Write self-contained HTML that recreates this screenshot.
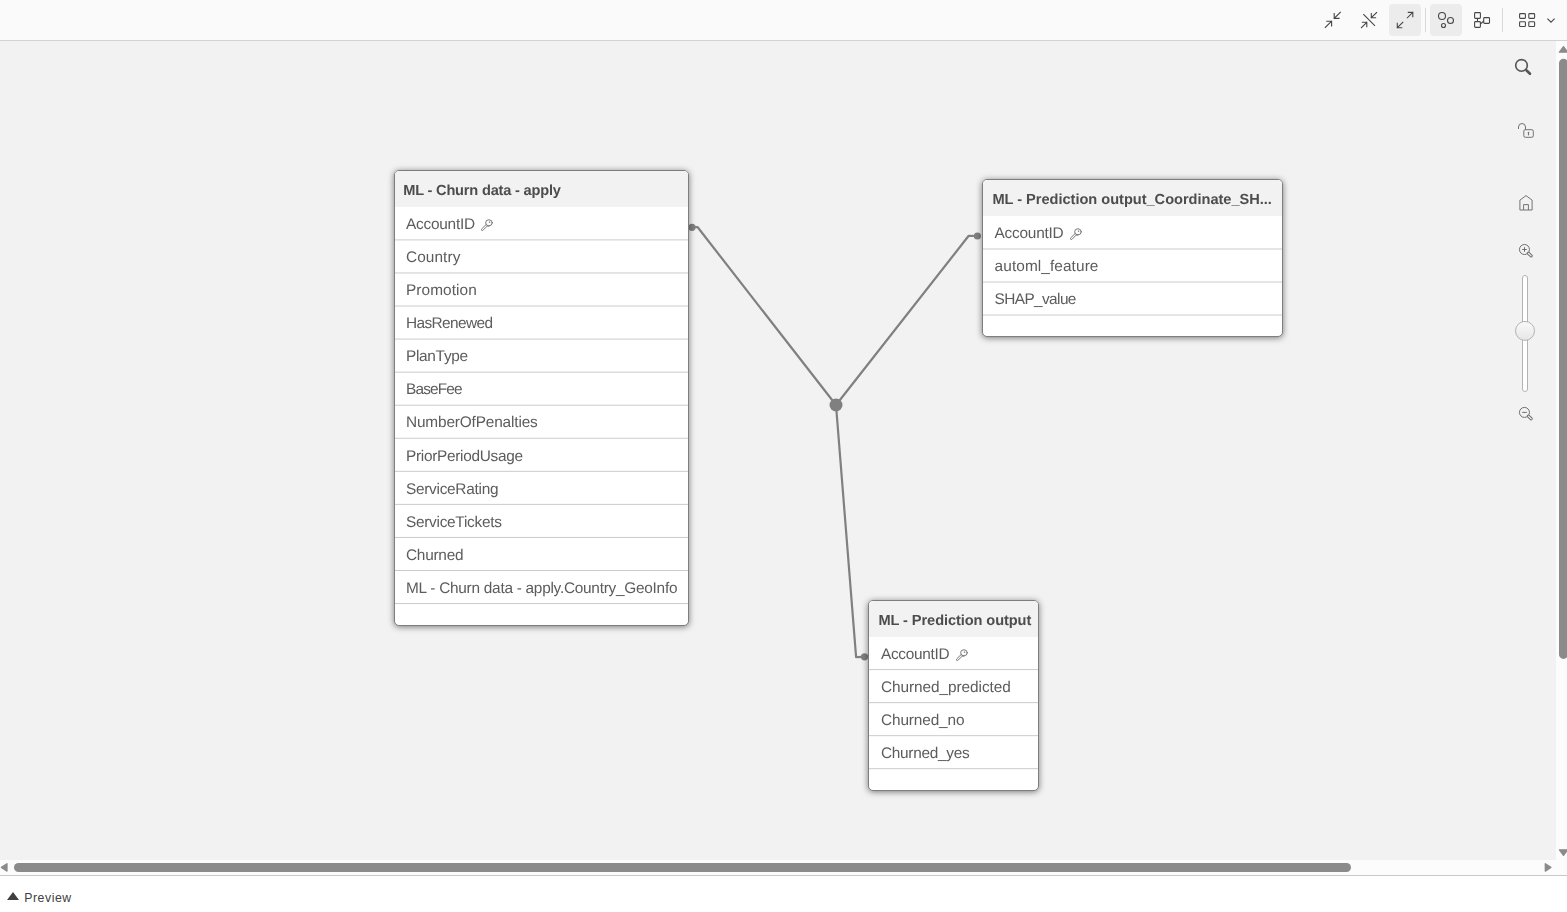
<!DOCTYPE html>
<html lang="en">
<head>
<meta charset="utf-8">
<title>Data model viewer</title>
<style>
*{box-sizing:border-box;margin:0;padding:0}
html,body{width:1567px;height:912px;overflow:hidden;background:#fff;font-family:"Liberation Sans",sans-serif;color:#595959}
#app{position:relative;width:1567px;height:912px;overflow:hidden;background:#fff}
#topbar{position:absolute;left:0;top:0;width:1567px;height:41px;background:#fafafa;border-bottom:1px solid #d2d2d2}
.tbtn{position:absolute;top:4px;width:32px;height:32px;border-radius:4px}
.tbtn.on{background:#ececec}
.tsep{position:absolute;top:8px;width:1px;height:24px;background:#d9d9d9}
#canvas{position:absolute;left:0;top:41px;width:1556px;height:819px;background:#f2f2f2;overflow:hidden}
#vscroll{position:absolute;left:1556px;top:41px;width:16px;height:819px;background:#fcfcfc}
#hscroll{position:absolute;left:0;top:860px;width:1567px;height:16px;background:#fcfcfc;border-bottom:1px solid #c8c8c8}
#footer{position:absolute;left:0;top:876px;width:1567px;height:36px;background:#fff}
.tbl{will-change:transform;text-rendering:geometricPrecision;position:absolute;background:#fff;border:1px solid #7e7e7e;border-radius:5px;box-shadow:0 1px 6px rgba(0,0,0,.5);overflow:hidden}
.tbl .hd{height:36.2px;background:#f2f2f2;font-weight:bold;font-size:14.6px;color:#4d4d4d;padding-left:8.2px;line-height:38px;white-space:nowrap;overflow:hidden}
.tbl .hd span{display:inline-block;position:relative;top:0.5px}
.tbl .rw{height:33.06px;padding-top:1px;font-size:15.4px;color:#5c5c5c;padding-left:11px;line-height:34px;white-space:nowrap;position:relative}
.tbl .ln{position:absolute;left:0;top:0}
.tbl .rw span{display:inline-block;position:relative;top:0px}
.key{position:absolute;top:11.5px;width:13px;height:13px}
svg{display:block}
</style>
</head>
<body>
<div id="app">
  <div id="canvas">
    <svg id="links" width="1556" height="819" viewBox="0 41 1556 819" style="position:absolute;left:0;top:0">
      <g fill="none" stroke="#808080" stroke-width="2.2" stroke-linejoin="round" stroke-linecap="round">
        <polyline points="692,227.3 697.5,227 836,405"/>
        <polyline points="977.4,236 968.7,235.8 836,405"/>
        <polyline points="864.5,656.8 856.1,657.1 836,405"/>
      </g>
      <g fill="#808080">
        <circle cx="836" cy="405" r="6.5"/>
        <circle cx="692.05" cy="227.3" r="3.6"/>
        <circle cx="977.4" cy="236" r="3.6"/>
        <circle cx="864.5" cy="656.8" r="3.6"/>
      </g>
    </svg>


    <svg id="tools" width="60" height="400" viewBox="1500 41 60 400" style="position:absolute;left:1500px;top:0">
      <!-- search -->
      <g fill="none" stroke="#555" stroke-linecap="round">
        <circle cx="1521.5" cy="65.4" r="5.8" stroke-width="1.6"/>
        <path d="M1526.6 70.5L1530 73.8" stroke-width="2.6"/>
      </g>
      <!-- unlock -->
      <g fill="none" stroke="#737373" stroke-width="1">
        <path d="M1518.5 128.6V127A3.5 3.5 0 0 1 1525.5 127V129.5" stroke-linecap="round"/>
        <rect x="1523.8" y="129.7" width="9.5" height="7.6" rx="1.5"/>
        <path d="M1528.5 132.3V134.8" stroke-width="1.2" stroke-linecap="round"/>
      </g>
      <!-- home -->
      <g fill="none" stroke="#737373" stroke-width="1" stroke-linejoin="round">
        <path d="M1519.9 210V200.2L1526 195.6L1532.1 200.2V210Z"/>
        <path d="M1523.6 210V204.6H1528.4V210"/>
      </g>
      <!-- zoom in -->
      <g fill="none" stroke="#6e6e6e" stroke-width="1">
        <circle cx="1524.45" cy="249.5" r="5"/>
        <path d="M1522.2 249.5H1526.8M1524.5 247.2V251.8"/>
        <rect x="-1" y="-1.1" width="6" height="2.2" rx="1.1" transform="translate(1528.3 253.2) rotate(43)" fill="#f2f2f2"/>
      </g>
      <!-- slider -->
      <rect x="1522.5" y="275.5" width="5" height="116" rx="2.5" fill="#fff" stroke="#b3b3b3" stroke-width="1"/>
      <defs><linearGradient id="kg" x1="0" y1="0" x2="0" y2="1"><stop offset="0" stop-color="#fafafa"/><stop offset="1" stop-color="#e6e6e6"/></linearGradient></defs>
      <circle cx="1525" cy="330.9" r="9.5" fill="url(#kg)" stroke="#b3b3b3" stroke-width="1"/>
      <!-- zoom out -->
      <g fill="none" stroke="#6e6e6e" stroke-width="1">
        <circle cx="1524.45" cy="412.4" r="5"/>
        <path d="M1522.2 412.4H1526.8"/>
        <rect x="-1" y="-1.1" width="6" height="2.2" rx="1.1" transform="translate(1528.3 416.1) rotate(43)" fill="#f2f2f2"/>
      </g>
    </svg>
    <div class="tbl" id="t1" style="left:394px;top:129px;width:295px;height:456px">
      <svg class="ln" width="293" height="454" fill="#cbcbcb"><rect x="0" y="68.40" width="293" height="1"/><rect x="0" y="101.46" width="293" height="1"/><rect x="0" y="134.52" width="293" height="1"/><rect x="0" y="167.58" width="293" height="1"/><rect x="0" y="200.64" width="293" height="1"/><rect x="0" y="233.70" width="293" height="1"/><rect x="0" y="266.76" width="293" height="1"/><rect x="0" y="299.82" width="293" height="1"/><rect x="0" y="332.88" width="293" height="1"/><rect x="0" y="365.94" width="293" height="1"/><rect x="0" y="399.00" width="293" height="1"/><rect x="0" y="432.06" width="293" height="1"/></svg>
      <div class="hd"><span style="letter-spacing:-0.187px">ML - Churn data - apply</span></div>
      <div class="rw"><span style="letter-spacing:-0.235px">AccountID</span><svg class="key" style="left:85.9px" viewBox="0 0 13 13"><g fill="none" stroke="#6a6a6a" stroke-width="0.9" stroke-linejoin="round" stroke-linecap="round"><ellipse cx="7.95" cy="3.8" rx="3.3" ry="3.05"/><path d="M5 5.7L0.7 9.9Q0 10.7 0.6 11.3Q1.4 11.8 2.2 11.1L6.2 7.1H8"/><path d="M8.3 3.1h0.5" stroke-width="1.1"/></g></svg></div>
      <div class="rw"><span style="letter-spacing:0.073px">Country</span></div>
      <div class="rw"><span style="letter-spacing:0.083px">Promotion</span></div>
      <div class="rw"><span style="letter-spacing:-0.601px">HasRenewed</span></div>
      <div class="rw"><span style="letter-spacing:-0.296px">PlanType</span></div>
      <div class="rw"><span style="letter-spacing:-0.844px">BaseFee</span></div>
      <div class="rw"><span style="letter-spacing:-0.16px">NumberOfPenalties</span></div>
      <div class="rw"><span style="letter-spacing:-0.299px">PriorPeriodUsage</span></div>
      <div class="rw"><span style="letter-spacing:-0.278px">ServiceRating</span></div>
      <div class="rw"><span style="letter-spacing:-0.279px">ServiceTickets</span></div>
      <div class="rw"><span style="letter-spacing:-0.25px">Churned</span></div>
      <div class="rw"><span style="letter-spacing:-0.263px">ML - Churn data - apply.Country_GeoInfo</span></div>
    </div>

    <div class="tbl" id="t2" style="left:982px;top:138px;width:301px;height:158px">
      <svg class="ln" width="299" height="156" fill="#cbcbcb"><rect x="0" y="68.50" width="299" height="1"/><rect x="0" y="101.52" width="299" height="1"/><rect x="0" y="134.54" width="299" height="1"/></svg>
      <div class="hd" style="padding-left:9.4px"><span style="letter-spacing:-0.02px">ML - Prediction output_Coordinate_SH...</span></div>
      <div class="rw" style="padding-left:11.6px"><span style="letter-spacing:-0.235px">AccountID</span><svg class="key" style="left:87.1px" viewBox="0 0 13 13"><g fill="none" stroke="#6a6a6a" stroke-width="0.9" stroke-linejoin="round" stroke-linecap="round"><ellipse cx="7.95" cy="3.8" rx="3.3" ry="3.05"/><path d="M5 5.7L0.7 9.9Q0 10.7 0.6 11.3Q1.4 11.8 2.2 11.1L6.2 7.1H8"/><path d="M8.3 3.1h0.5" stroke-width="1.1"/></g></svg></div>
      <div class="rw" style="padding-left:11.6px"><span style="letter-spacing:0.088px">automl_feature</span></div>
      <div class="rw" style="padding-left:11.6px"><span style="letter-spacing:-0.607px">SHAP_value</span></div>
    </div>

    <div class="tbl" id="t3" style="left:868px;top:559px;width:171px;height:191px">
      <svg class="ln" width="169" height="189" fill="#cbcbcb"><rect x="0" y="68.10" width="169" height="1"/><rect x="0" y="101.13" width="169" height="1"/><rect x="0" y="134.16" width="169" height="1"/><rect x="0" y="167.19" width="169" height="1"/></svg>
      <div class="hd" style="padding-left:9.5px"><span style="letter-spacing:-0.085px">ML - Prediction output</span></div>
      <div class="rw" style="padding-left:12px"><span style="letter-spacing:-0.313px">AccountID</span><svg class="key" style="left:87.2px" viewBox="0 0 13 13"><g fill="none" stroke="#6a6a6a" stroke-width="0.9" stroke-linejoin="round" stroke-linecap="round"><ellipse cx="7.95" cy="3.8" rx="3.3" ry="3.05"/><path d="M5 5.7L0.7 9.9Q0 10.7 0.6 11.3Q1.4 11.8 2.2 11.1L6.2 7.1H8"/><path d="M8.3 3.1h0.5" stroke-width="1.1"/></g></svg></div>
      <div class="rw" style="padding-left:12px"><span style="letter-spacing:-0.066px">Churned_predicted</span></div>
      <div class="rw" style="padding-left:12px"><span style="letter-spacing:-0.132px">Churned_no</span></div>
      <div class="rw" style="padding-left:12px"><span style="letter-spacing:-0.287px">Churned_yes</span></div>
    </div>
  </div>

  <div id="vscroll">
    <svg width="11" height="819" viewBox="1556 41 11 819" style="position:absolute;left:0;top:0">
      <path d="M1563.5 46.6L1567.6 52.2H1559.4Z" fill="#8b8b8b" stroke="#8b8b8b" stroke-width="1.3" stroke-linejoin="round"/>
      <rect x="1559" y="58.8" width="9" height="600.1" rx="4.5" fill="#8b8b8b"/>
      <path d="M1563.5 855.4L1567.6 849.8H1559.4Z" fill="#8b8b8b" stroke="#8b8b8b" stroke-width="1.3" stroke-linejoin="round"/>
    </svg>
  </div>
  <div id="hscroll">
    <svg width="1567" height="15" viewBox="0 860 1567 15" style="position:absolute;left:0;top:0">
      <path d="M1.4 867.4L7 863.7V871.1Z" fill="#8b8b8b" stroke="#8b8b8b" stroke-width="1.3" stroke-linejoin="round"/>
      <rect x="14" y="863" width="1337" height="9" rx="4.5" fill="#8b8b8b"/>
      <path d="M1550.9 867.4L1545.3 863.7V871.1Z" fill="#8b8b8b" stroke="#8b8b8b" stroke-width="1.3" stroke-linejoin="round"/>
    </svg>
  </div>
  <div id="footer"><svg width="14" height="10" viewBox="0 0 14 10" style="position:absolute;left:6px;top:15px"><path d="M1 9L7 1L13 9Z" fill="#404040"/></svg><span id="pv" style="position:absolute;left:24.2px;top:14px;font-size:12.3px;letter-spacing:0.55px;color:#404040;line-height:16px">Preview</span></div>
  <div id="topbar">
    <div class="tbtn on" style="left:1389px"></div>
    <div class="tbtn on" style="left:1430px"></div>
    <div class="tsep" style="left:1425px"></div>
    <div class="tsep" style="left:1502px"></div>
    <svg width="1567" height="40" viewBox="0 0 1567 40" style="position:absolute;left:0;top:0">
      <g fill="none" stroke="#474747" stroke-width="1.1" stroke-linecap="square" stroke-linejoin="miter">
        <!-- collapse all -->
        <path d="M1340.3 12.3L1334.2 18.4M1334.2 13.6V18.4H1339"/>
        <path d="M1325.3 27.4L1331.6 21.2M1326.8 21.2H1331.6V26"/>
        <!-- collapse linked -->
        <path d="M1363.3 14.1L1375 25.8" stroke-linecap="butt"/>
        <path d="M1376.6 12.5L1371.3 17.7M1371.3 13.5V17.7H1375.6"/>
        <path d="M1361.4 27.6L1366.8 22.3M1362.4 22.3H1366.8V26.6"/>
        <!-- expand all -->
        <path d="M1407.3 17.8L1412.8 12.4M1408.3 12.4H1412.8V16.8"/>
        <path d="M1402.8 22.3L1397.3 27.7M1397.3 23.3V27.7H1401.7"/>
        <!-- internal view -->
        <circle cx="1442" cy="16" r="3.5"/>
        <circle cx="1450.5" cy="20.5" r="3"/>
        <circle cx="1443.5" cy="25.5" r="2"/>
        <!-- source view -->
        <rect x="1474.6" y="12.6" width="5.8" height="5.8" rx="0.8"/>
        <rect x="1474.6" y="21.6" width="5.8" height="5.8" rx="0.8"/>
        <rect x="1483.7" y="17.6" width="5.8" height="5.8" rx="0.8"/>
        <path d="M1477.5 18.4V21.6M1480.4 24.2L1483.7 21" stroke-linecap="butt"/>
        <!-- layout grid -->
        <rect x="1519.6" y="13.6" width="5.8" height="4.8" rx="0.8"/>
        <rect x="1528.8" y="13.6" width="5.8" height="4.8" rx="0.8"/>
        <rect x="1519.6" y="21.7" width="5.8" height="4.8" rx="0.8"/>
        <rect x="1528.8" y="21.7" width="5.8" height="4.8" rx="0.8"/>
        <path d="M1547.4 18.6L1551 22.2L1554.6 18.6" stroke-linecap="butt"/>
      </g>
    </svg>
  </div>
</div>
</body>
</html>
